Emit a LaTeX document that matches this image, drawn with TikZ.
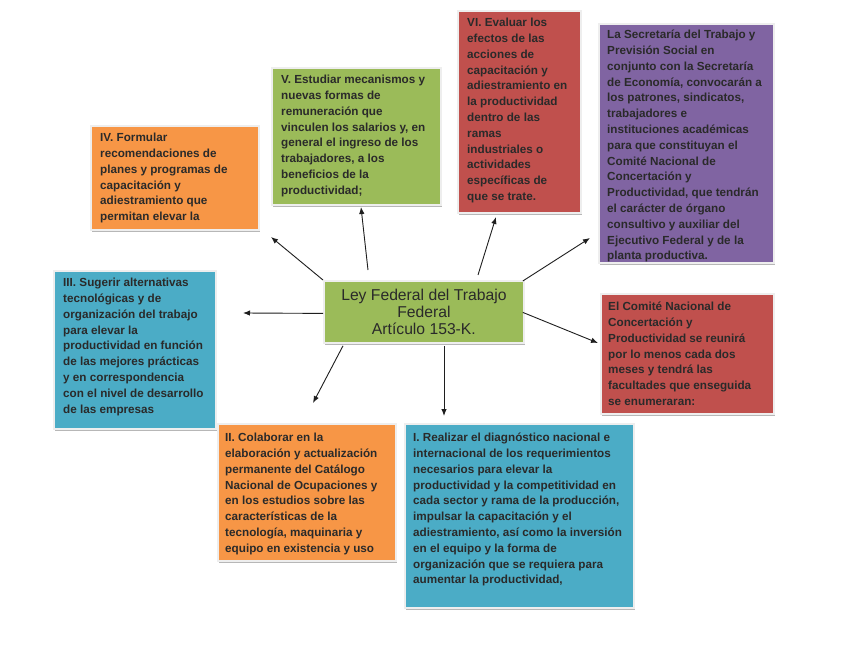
\documentclass[tikz,border=0pt]{standalone}
\usepackage{fontspec}
\setmainfont{Liberation Sans}
\usetikzlibrary{shadows,arrows.meta}
\definecolor{cOr}{HTML}{F79646}
\definecolor{cGr}{HTML}{9BBB59}
\definecolor{cRd}{HTML}{C0504D}
\definecolor{cPu}{HTML}{8064A2}
\definecolor{cBl}{HTML}{4BACC6}
\definecolor{cTxt}{HTML}{2A2A2A}
\definecolor{cBord}{HTML}{EEEEEE}
\definecolor{cLine}{HTML}{1E1E1E}
\begin{document}
\begin{tikzpicture}[x=1pt,y=-1pt,
  box/.style={draw=cBord, line width=1.8pt, inner sep=0pt, anchor=north west,
    drop shadow={shadow xshift=1.2pt, shadow yshift=-2.2pt, fill=black!35, opacity=0.8}},
  txt/.style={anchor=north west, inner sep=0pt, align=left, text=cTxt,
    font=\fontsize{11.7}{15.8}\selectfont\bfseries},
  ttl/.style={align=center, text=cTxt, font=\fontsize{15.7}{17}\selectfont},
  arr/.style={-{Latex[length=7pt,width=5.5pt]}, line width=0.9pt, draw=cLine}]
\useasboundingbox (0,0) rectangle (848,655);
\fill[white] (0,0) rectangle (848,655);

% boxes
\node[box, fill=cOr, minimum width=168pt, minimum height=104pt] (iv) at (90,125) {};
\node[box, fill=cGr, minimum width=169pt, minimum height=137pt] (v) at (271,67) {};
\node[box, fill=cRd, minimum width=123pt, minimum height=202pt] (vi) at (457,10) {};
\node[box, fill=cPu, minimum width=175pt, minimum height=239pt] (stps) at (598,23) {};
\node[box, fill=cRd, minimum width=173pt, minimum height=120pt] (cnc) at (600,293) {};
\node[box, fill=cBl, minimum width=162pt, minimum height=158pt] (iii) at (53,270) {};
\node[box, fill=cOr, minimum width=178pt, minimum height=137pt] (ii) at (217,423) {};
\node[box, fill=cBl, minimum width=229pt, minimum height=184pt] (i) at (404,423) {};
\node[box, fill=cGr, minimum width=200pt, minimum height=62pt] (c) at (323,280) {};

% texts
\node[txt] (tiv) at ([shift={(10,8)}]iv.north west) {IV. Formular\\recomendaciones de\\planes y programas de\\capacitación y\\adiestramiento que\\permitan elevar la};
\node[txt] (tv) at ([shift={(10,8)}]v.north west) {V. Estudiar mecanismos y\\nuevas formas de\\remuneración que\\vinculen los salarios y, en\\general el ingreso de los\\trabajadores, a los\\beneficios de la\\productividad;};
\node[txt] (tvi) at ([shift={(10,8)}]vi.north west) {VI. Evaluar los\\efectos de las\\acciones de\\capacitación y\\adiestramiento en\\la productividad\\dentro de las\\ramas\\industriales o\\actividades\\específicas de\\que se trate.};
\node[txt] (tstps) at ([shift={(9,7)}]stps.north west) {La Secretaría del Trabajo y\\Previsión Social en\\conjunto con la Secretaría\\de Economía, convocarán a\\los patrones, sindicatos,\\trabajadores e\\instituciones académicas\\para que constituyan el\\Comité Nacional de\\Concertación y\\Productividad, que tendrán\\el carácter de órgano\\consultivo y auxiliar del\\Ejecutivo Federal y de la\\planta productiva.};
\node[txt] (tcnc) at ([shift={(8,9)}]cnc.north west) {El Comité Nacional de\\Concertación y\\Productividad se reunirá\\por lo menos cada dos\\meses y tendrá las\\facultades que enseguida\\se enumeraran:};
\node[txt] (tiii) at ([shift={(10,8)}]iii.north west) {III. Sugerir alternativas\\tecnológicas y de\\organización del trabajo\\para elevar la\\productividad en función\\de las mejores prácticas\\y en correspondencia\\con el nivel de desarrollo\\de las empresas};
\node[txt] (tii) at ([shift={(8,10)}]ii.north west) {II. Colaborar en la\\elaboración y actualización\\permanente del Catálogo\\Nacional de Ocupaciones y\\en los estudios sobre las\\características de la\\tecnología, maquinaria y\\equipo en existencia y uso};
\node[txt] (ti) at ([shift={(9,10)}]i.north west) {I. Realizar el diagnóstico nacional e\\internacional de los requerimientos\\necesarios para elevar la\\productividad y la competitividad en\\cada sector y rama de la producción,\\impulsar la capacitación y el\\adiestramiento, así como la inversión\\en el equipo y la forma de\\organización que se requiera para\\aumentar la productividad,};
\node[ttl] (tc) at (c.center) {Ley Federal del Trabajo\\Federal\\Artículo 153-K.};

% arrow tips
\coordinate (pIV) at (271,237);
\coordinate (pV) at (361,207);
\coordinate (pVI) at (496,217);
\coordinate (pSTPS) at (590,238);
\coordinate (pCNC) at (598,343);
\coordinate (pIII) at (243,313);
\coordinate (pII) at (313,403);
\coordinate (pI) at (444,416);

\draw[arr] (c.north west) -- (pIV);
\draw[arr] ([shift={(45,-10)}]c.north west) -- (pV);
\draw[arr] ([shift={(155,-5)}]c.north west) -- (pVI);
\draw[arr] ([shift={(-2,1)}]c.north east) -- (pSTPS);
\draw[arr] ([shift={(0,1.5)}]c.west) -- (pIII);
\draw[arr] ([shift={(-2,0.5)}]c.east) -- (pCNC);
\draw[arr] ([shift={(20,2)}]c.south west) -- (pII);
\draw[arr] ([shift={(121,2)}]c.south west) -- (pI);
\end{tikzpicture}
\end{document}
